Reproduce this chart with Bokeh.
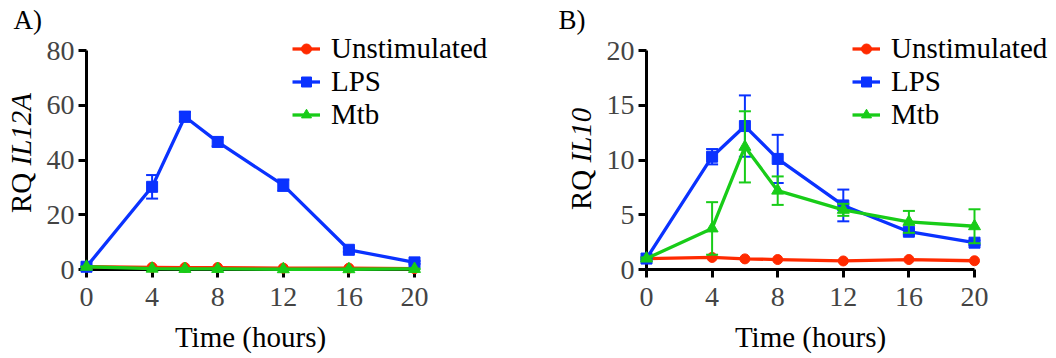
import math
from bokeh.plotting import figure
from bokeh.models import Range1d, FixedTicker, Legend, LegendItem, Label
from bokeh.layouts import row
from bokeh.embed import file_html
from bokeh.resources import INLINE

# ---------------- data ----------------
hours = [0, 4, 6, 8, 12, 16, 20]
x_ticks = [0, 4, 8, 12, 16, 20]
series_names = ["Unstimulated", "LPS", "Mtb"]

# Panel A: RQ IL12A
il12a_ticks = [0, 20, 40, 60, 80]
il12a_unstim = [1.0, 0.8, 0.7, 0.7, 0.5, 0.5, 0.3]
il12a_lps = [1.0, 30.2, 55.8, 46.6, 30.8, 7.2, 2.6]
il12a_lps_err = [0.2, 4.3, 1.8, 1.6, 2.1, 0.7, 0.5]
il12a_mtb = [1.0, 0.3, 0.2, 0.2, 0.1, 0.1, 0.2]
il12a_mtb_err = [0.1, 0.1, 0.1, 0.1, 0.1, 0.1, 0.1]

# Panel B: RQ IL10
il10_ticks = [0, 5, 10, 15, 20]
il10_unstim = [1.0, 1.1, 0.97, 0.91, 0.78, 0.91, 0.8]
il10_lps = [1.0, 10.3, 13.1, 10.1, 5.85, 3.45, 2.45]
il10_lps_err = [0.1, 0.7, 2.8, 2.2, 1.45, 0.25, 0.2]
il10_mtb = [1.0, 3.75, 11.2, 7.2, 5.45, 4.35, 3.95]
il10_mtb_err = [0.1, 2.4, 3.25, 1.3, 0.55, 1.0, 1.55]

RED = "#FF2A00"
BLUE = "#0A32FF"
GREEN = "#18CC18"
FONT = "Liberation Serif"

W, H = 528, 358          # canvas of each panel
PLOT_TOP, PLOT_BOTTOM = 50, 269   # pixel rows of y_max and 0
PLOT_W = 328                      # pixel width from x=0 to x=20
X_MAX = 20


def make_panel(letter, gene, y_max, y_ticks, unstim, lps, lps_err, mtb, mtb_err,
               left, split_y, letter_x):
    sx = PLOT_W / X_MAX
    sy = (PLOT_BOTTOM - PLOT_TOP) / y_max
    x_range = Range1d(-left / sx, (W - left) / sx)
    y_range = Range1d(-(H - PLOT_BOTTOM) / sy, PLOT_BOTTOM / sy)
    p = figure(width=W, height=H, x_range=x_range, y_range=y_range,
               output_backend="svg", toolbar_location=None,
               min_border=0, min_border_left=0, min_border_right=0,
               min_border_top=0, min_border_bottom=0)
    p.outline_line_color = None
    p.grid.visible = False
    p.background_fill_color = "white"
    p.border_fill_color = "white"
    p.xaxis.ticker = FixedTicker(ticks=x_ticks)
    p.yaxis.ticker = FixedTicker(ticks=y_ticks)
    p.xaxis.fixed_location = 0
    p.yaxis.fixed_location = 0
    p.xaxis.bounds = (0, X_MAX)
    p.yaxis.bounds = (0, y_max)
    for ax in (p.xaxis[0], p.yaxis[0]):
        ax.axis_line_width = 3
        ax.axis_line_color = "black"
        ax.major_tick_line_width = 3
        ax.major_tick_line_color = "black"
        ax.major_tick_out = 8
        ax.major_tick_in = 0
        ax.minor_tick_out = 0
        ax.minor_tick_in = 0
        ax.major_label_text_font = FONT
        ax.major_label_text_font_size = "28px"
        ax.major_label_text_color = "#444444"
    p.xaxis[0].major_label_standoff = 10
    p.yaxis[0].major_label_standoff = 4

    def add_series(vals, color, marker, size, errs=None):
        if errs is not None:
            lo = [v - e for v, e in zip(vals, errs)]
            hi = [v + e for v, e in zip(vals, errs)]
            s = p.segment(x0=hours, y0=lo, x1=hours, y1=hi, line_color=color, line_width=2)
            c1 = p.scatter(x=hours, y=hi, marker="dash", size=12, line_color=color, line_width=2)
            c2 = p.scatter(x=hours, y=lo, marker="dash", size=12, line_color=color, line_width=2)
            for r in (s, c1, c2):
                r.level = "overlay"
        ln = p.line(x=hours, y=vals, line_color=color, line_width=3.3)
        mk = p.scatter(x=hours, y=vals, marker=marker, size=size, fill_color=color,
                       line_color=color, line_width=1)
        ln.level = "overlay"
        mk.level = "overlay"
        return [ln, mk]

    r_un = add_series(unstim, RED, "circle", 10)
    r_lps = add_series(lps, BLUE, "square", 11, lps_err)
    r_mtb = add_series(mtb, GREEN, "triangle", 12, mtb_err)

    legend = Legend(items=[LegendItem(label=series_names[0], renderers=r_un),
                           LegendItem(label=series_names[1], renderers=r_lps),
                           LegendItem(label=series_names[2], renderers=r_mtb)],
                    location=(left + 206, H - 131), orientation="vertical",
                    padding=0, margin=0, spacing=-2, label_standoff=11,
                    glyph_width=28, glyph_height=25,
                    label_text_font=FONT, label_text_font_size="29px",
                    label_text_color="black",
                    border_line_color=None, background_fill_alpha=0)
    p.add_layout(legend)

    common = dict(x_units="screen", y_units="screen", text_font=FONT, text_color="black")
    p.add_layout(Label(x=left - 66, y=H - split_y, text="RQ ", angle=math.pi / 2,
                       text_align="right", text_baseline="alphabetic",
                       text_font_size="29px", **common))
    p.add_layout(Label(x=left - 66, y=H - split_y, text=gene, angle=math.pi / 2,
                       text_align="left", text_baseline="alphabetic", text_font_size="29px",
                       text_font_style="italic", **common))
    p.add_layout(Label(x=left + PLOT_W / 2, y=H - 336, text="Time (hours)", text_align="center",
                       text_baseline="alphabetic", text_font_size="29px", **common))
    p.add_layout(Label(x=letter_x, y=H - 19, text=letter, text_align="left",
                       text_baseline="alphabetic", text_font_size="27px", **common))
    return p


pa = make_panel("A)", "IL12A", 80, il12a_ticks, il12a_unstim, il12a_lps, il12a_lps_err,
                il12a_mtb, il12a_mtb_err, 86, 165, 13)
pb = make_panel("B)", "IL10", 20, il10_ticks, il10_unstim, il10_lps, il10_lps_err,
                il10_mtb, il10_mtb_err, 118, 162, 30)

layout = row(pa, pb)
open("out.html", "w").write(file_html(layout, INLINE))
